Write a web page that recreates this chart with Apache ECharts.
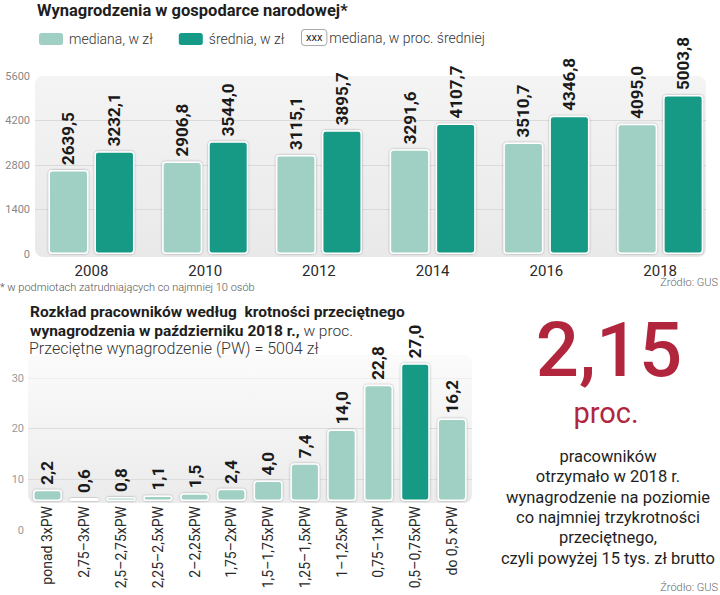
<!DOCTYPE html>
<html>
<head>
<meta charset="utf-8">
<script src="https://cdn.jsdelivr.net/npm/echarts@6/dist/echarts.min.js"></script>
<style>
html,body{margin:0;padding:0;background:#fff;}
#c{width:720px;height:595px;}
</style>
</head>
<body>
<div id="c"></div>
<script>
// ---- data ----
const years = ['2008', '2010', '2012', '2014', '2016', '2018'];
const medianPLN = [2639.5, 2906.8, 3115.1, 3291.6, 3510.7, 4095.0];
const meanPLN = [3232.1, 3544.0, 3895.7, 4107.7, 4346.8, 5003.8];
const medianPctOfMean = [81.67, 82.03, 79.96, 80.13, 80.77, 81.84];
const salaryTicks = [0, 1400, 2800, 4200, 5600];

const multipleBands = ['ponad 3xPW', '2,75–3xPW', '2,5–2,75xPW', '2,25–2,5xPW', '2–2,25xPW', '1,75–2xPW',
  '1,5–1,75xPW', '1,25–1,5xPW', '1–1,25xPW', '0,75–1xPW', '0,5–0,75xPW', 'do 0,5 xPW'];
const employeeShare = [2.2, 0.6, 0.8, 1.1, 1.5, 2.4, 4.0, 7.4, 14.0, 22.8, 27.0, 16.2];
const shareTicks = [0, 10, 20, 30];
const highlightBand = '0,5–0,75xPW';

const noteLines = ['pracowników', 'otrzymało w 2018 r.', 'wynagrodzenie na poziomie',
  'co najmniej trzykrotności', 'przeciętnego,', 'czyli powyżej 15 tys. zł brutto'];

// ---- styles ----
const LIGHT = '#9fd0c3';
const DARK = '#149a86';
const RED = '#b2263d';
const FONT = 'Roboto, "Noto Sans", sans-serif';
const fmt1 = v => v.toFixed(1).replace('.', ',');
const fmt2 = v => v.toFixed(2).replace('.', ',');

const barStyle = c => ({
  color: c, borderColor: '#ffffff', borderWidth: 1.5, borderRadius: 3,
  shadowColor: 'rgba(0,0,0,0.35)', shadowBlur: 2
});
const valueLabel = {
  show: true, position: 'top', rotate: 90, align: 'left', verticalAlign: 'middle',
  distance: 5, fontFamily: FONT, fontWeight: 'bold', fontSize: 17, color: '#1a1a1a'
};

const chart = echarts.init(document.getElementById('c'), null, {renderer: 'svg'});

const panelGrad = (a, b) => new echarts.graphic.LinearGradient(0, 0, 0, 1, [
  {offset: 0, color: a}, {offset: 1, color: b}]);

chart.setOption({
  animation: false,
  backgroundColor: '#fff',
  textStyle: {fontFamily: FONT},
  title: [
    {text: 'Wynagrodzenia w gospodarce narodowej*', left: 37, top: 2, padding: 0,
      textStyle: {fontFamily: FONT, fontWeight: 'bold', fontSize: 16.5, color: '#1e1e1e'}},
    {text: '* w podmiotach zatrudniających co najmniej 10 osób', left: 0, top: 282, padding: 0,
      textStyle: {fontFamily: FONT, fontWeight: 300, fontSize: 11, color: '#555'}},
    {text: 'Źródło: GUS', right: 2, top: 277, padding: 0,
      textStyle: {fontFamily: FONT, fontWeight: 300, fontSize: 11, color: '#666'}},
    {text: 'Rozkład pracowników według  krotności przeciętnego', left: 30, top: 304, padding: 0,
      textStyle: {fontFamily: FONT, fontWeight: 'bold', fontSize: 15.5, color: '#1e1e1e'}},
    {text: '{b|wynagrodzenia w październiku 2018 r.,}{n| w proc.}', left: 30, top: 323, padding: 0,
      textStyle: {rich: {
        b: {fontFamily: FONT, fontWeight: 'bold', fontSize: 15.5, color: '#1e1e1e'},
        n: {fontFamily: FONT, fontWeight: 300, fontSize: 15.5, color: '#333'}}}},
    {text: 'Przeciętne wynagrodzenie (PW) = 5004 zł', left: 29, top: 340, padding: 0,
      textStyle: {fontFamily: FONT, fontWeight: 300, fontSize: 16, color: '#333'}}
  ],
  legend: [
    {data: ['mediana, w zł', 'średnia, w zł'], left: 37, top: 31, padding: 0,
      itemWidth: 26, itemHeight: 14, itemGap: 24, icon: 'roundRect',
      textStyle: {fontFamily: FONT, fontWeight: 300, fontSize: 14, color: '#333'}},
    {data: ['mediana, w proc. średniej'], left: 297, top: 29, padding: 0,
      itemWidth: 0, icon: 'none',
      formatter: n => '{box|xxx} {t|' + n + '}',
      textStyle: {rich: {
        box: {fontFamily: FONT, fontSize: 11, color: '#222', backgroundColor: '#fff',
          borderColor: '#aaa', borderWidth: 1, borderRadius: 3, padding: [2, 4], lineHeight: 13},
        t: {fontFamily: FONT, fontWeight: 300, fontSize: 14, color: '#333'}}}}
  ],
  graphic: [
    {type: 'rect', z: -1, silent: true, shape: {x: 35, y: 76, width: 671, height: 181, r: 8},
      style: {fill: panelGrad('#f4f4f4', '#e9e9e9')}},
    {type: 'rect', z: -1, silent: true, shape: {x: 28, y: 355, width: 444, height: 148, r: 8},
      style: {fill: panelGrad('#fbfbfb', '#ebebeb')}},
    {type: 'text', x: 609, y: 350, style: {text: '2,15', fill: RED, font: '500 76px ' + FONT,
      lineHeight: 60, textAlign: 'center', textVerticalAlign: 'middle'}},
    {type: 'text', x: 606, y: 413, style: {text: 'proc.', fill: RED, font: '400 29px ' + FONT,
      lineHeight: 26, textAlign: 'center', textVerticalAlign: 'middle'}},
    {type: 'text', x: 608, y: 446, style: {text: noteLines.join('\n'), fill: '#1e1e1e',
      font: '400 16.5px ' + FONT, lineHeight: 20.4, textAlign: 'center', textVerticalAlign: 'top'}},
    {type: 'text', x: 718, y: 587, style: {text: 'Źródło: GUS', fill: '#666',
      font: '300 11px ' + FONT, textAlign: 'right', textVerticalAlign: 'middle'}}
  ],
  grid: [
    {left: 34.6, right: 3, top: 76, bottom: 341},
    {left: 35, right: 14, top: 76, bottom: 341},
    {left: 29.1, right: 249.6, top: 348, bottom: 94},
    {left: 28, right: 248, top: 378, bottom: 65}
  ],
  xAxis: [
    {gridIndex: 0, type: 'category', data: years, axisLine: {show: false}, axisTick: {show: false},
      axisLabel: {fontFamily: FONT, fontSize: 15, color: '#2a2a2a', margin: 9}},
    {gridIndex: 1, type: 'category', data: [], show: false},
    {gridIndex: 2, type: 'category', data: multipleBands, axisLine: {show: false}, axisTick: {show: false},
      axisLabel: {fontFamily: FONT, fontSize: 14, color: '#2a2a2a', rotate: 90, margin: 5, interval: 0}},
    {gridIndex: 3, type: 'category', data: [], show: false}
  ],
  yAxis: [
    {gridIndex: 0, type: 'value', min: salaryTicks[0], max: salaryTicks[salaryTicks.length - 1], show: false},
    {gridIndex: 1, type: 'value', min: salaryTicks[0], max: salaryTicks[salaryTicks.length - 1],
      interval: salaryTicks[1] - salaryTicks[0],
      axisLine: {show: false}, axisTick: {show: false},
      axisLabel: {fontFamily: FONT, fontSize: 11, color: '#888', margin: 5, formatter: v => String(v)},
      splitLine: {lineStyle: {color: ['rgba(0,0,0,0)', '#dadada', '#dadada', '#dadada', 'rgba(0,0,0,0)'], width: 1}}},
    {gridIndex: 2, type: 'value', min: shareTicks[0], max: shareTicks[shareTicks.length - 1], show: false},
    {gridIndex: 3, type: 'value', min: shareTicks[0], max: shareTicks[shareTicks.length - 1],
      interval: shareTicks[1] - shareTicks[0],
      axisLine: {show: false}, axisTick: {show: false},
      axisLabel: {fontFamily: FONT, fontSize: 11, color: '#999', margin: 4, formatter: v => String(v)},
      splitLine: {lineStyle: {color: ['rgba(0,0,0,0)', '#dddddd', '#dddddd', '#eeeeee'], width: 1}}}
  ],
  series: [
    {name: 'mediana, w zł', type: 'bar', xAxisIndex: 0, yAxisIndex: 0, data: medianPLN,
      barWidth: 40, barGap: '15%', itemStyle: barStyle(LIGHT),
      label: Object.assign({}, valueLabel, {formatter: p => fmt1(p.value)})},
    {name: 'średnia, w zł', type: 'bar', xAxisIndex: 0, yAxisIndex: 0, data: meanPLN,
      barWidth: 40, barGap: '15%', itemStyle: barStyle(DARK),
      label: Object.assign({}, valueLabel, {formatter: p => fmt1(p.value)})},
    {name: 'mediana, w proc. średniej', type: 'scatter', xAxisIndex: 0, yAxisIndex: 0, z: 5,
      symbolSize: 1, itemStyle: {opacity: 0},
      data: medianPctOfMean.map(v => ({value: 0, pct: v})),
      label: {show: true, position: 'inside', offset: [0, -8],
        formatter: p => fmt2(p.data.pct),
        fontFamily: FONT, fontSize: 13.5, color: '#1e1e1e', backgroundColor: '#fff',
        borderColor: '#9a9a9a', borderWidth: 1, borderRadius: 3, padding: [2, 3], lineHeight: 14}},
    {name: 'udział', type: 'bar', xAxisIndex: 2, yAxisIndex: 2, barWidth: 29,
      data: employeeShare.map((v, i) => ({value: v,
        itemStyle: barStyle(multipleBands[i] === highlightBand ? DARK : LIGHT)})),
      label: Object.assign({}, valueLabel, {formatter: p => fmt1(p.value)})}
  ]
});
</script>
</body>
</html>
